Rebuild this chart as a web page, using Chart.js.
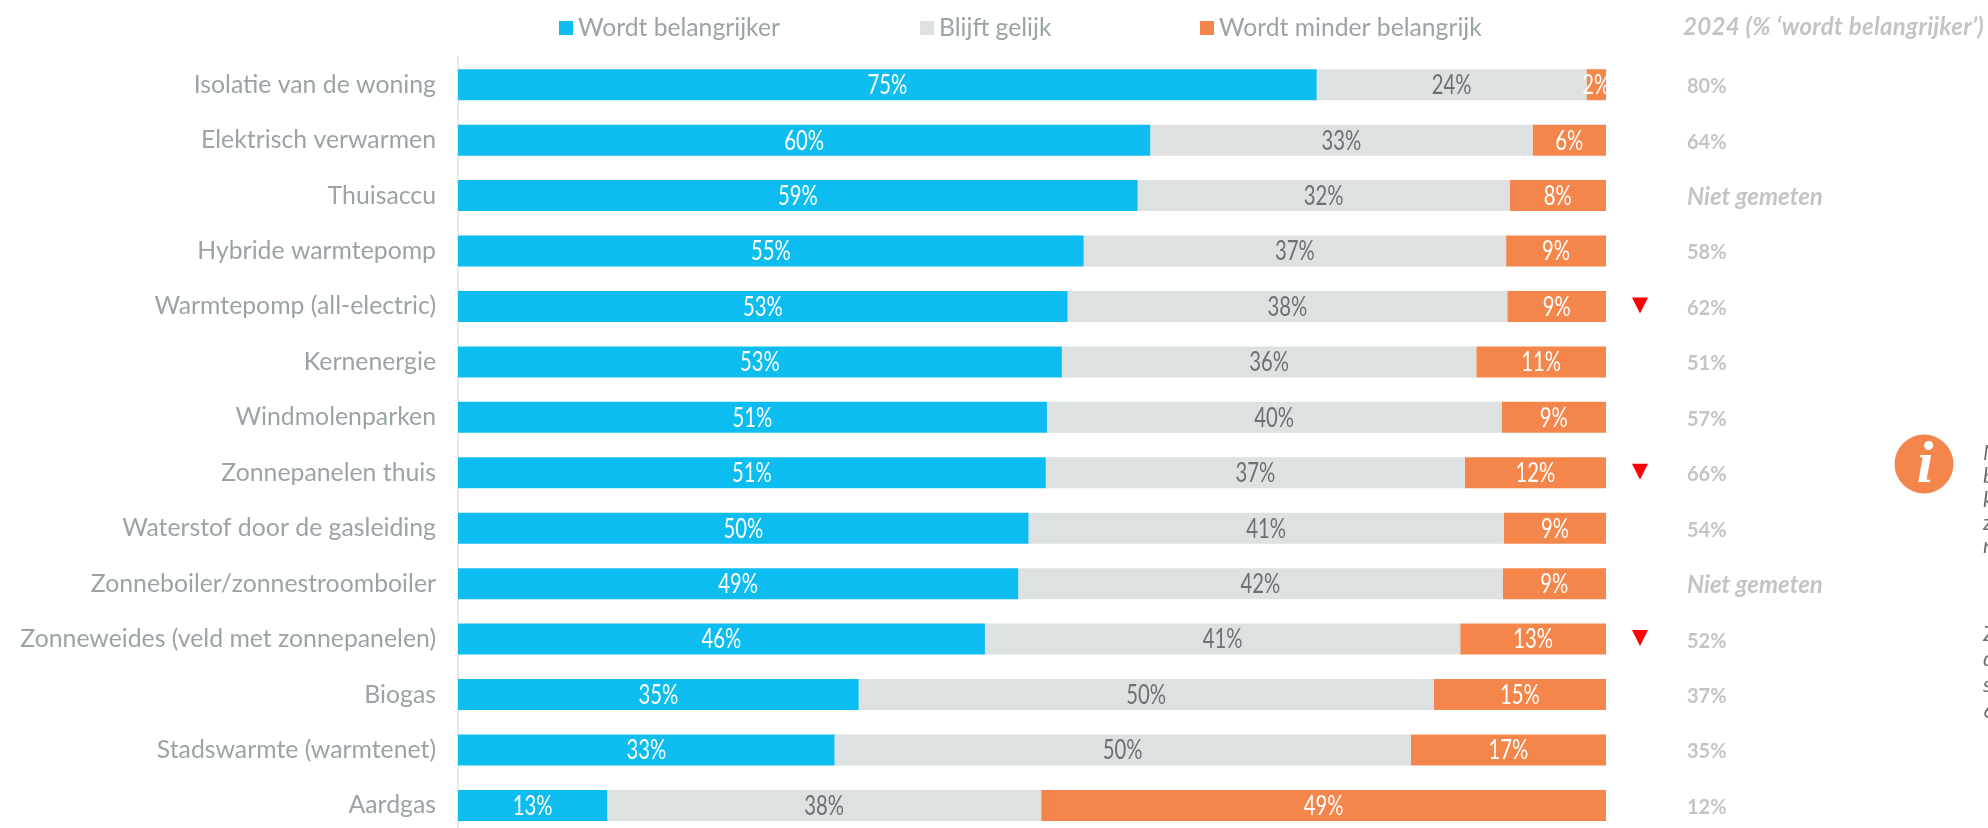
<!DOCTYPE html>
<html>
  <head>
    <title>Chart</title>
    <meta charset="UTF-8" />
    <script src="https://cdn.jsdelivr.net/npm/chart.js@4"></script>
    <style>
      html, body { margin: 0; background: #fff; overflow: hidden; }
      #wrap { position: relative; width: 1988px; height: 828px; overflow: hidden; }
      #wrap canvas { display: block; }
    </style>
  </head>
  <body>
    <div id="wrap"><canvas id="myChart" width="1988" height="870"></canvas></div>
    <script>
      var categories = [
        "Isolatie van de woning", "Elektrisch verwarmen", "Thuisaccu", "Hybride warmtepomp",
        "Warmtepomp (all-electric)", "Kernenergie", "Windmolenparken", "Zonnepanelen thuis",
        "Waterstof door de gasleiding", "Zonneboiler/zonnestroomboiler",
        "Zonneweides (veld met zonnepanelen)", "Biogas", "Stadswarmte (warmtenet)", "Aardgas"
      ];
      var belangrijker = [74.8, 60.3, 59.2, 54.5, 53.1, 52.6, 51.3, 51.2, 49.7, 48.8, 45.9, 34.9, 32.8, 13];
      var gelijk = [23.5, 33.3, 32.4, 36.8, 38.3, 36.1, 39.6, 36.5, 41.4, 42.2, 41.4, 50.1, 50.2, 37.8];
      var minder = [1.7, 6.4, 8.4, 8.7, 8.6, 11.3, 9.1, 12.3, 8.9, 9, 12.7, 15, 17, 49.2];
      var vorigJaar = ["80%", "64%", "Niet gemeten", "58%", "62%", "51%", "57%", "66%", "54%", "Niet gemeten", "52%", "37%", "35%", "12%"];
      var gedaald = [4, 7, 10];
      var seriesNames = ["Wordt belangrijker", "Blijft gelijk", "Wordt minder belangrijk"];
      var seriesColors = ["#0dbdf0", "#dee1e1", "#f4864c"];
      var labelColors = ["#ffffff", "#6b7173", "#ffffff"];
      var headerText = "2024 (% \u2018wordt belangrijker\u2019)";
      var noteLines = ["N", "b", "k", "z", "n", "", "", "Z", "d", "s", "6"];

      var FONT = "Lato";

      // legend, value labels, 2024 column and the info block
      var extras = {
        id: "extras",
        afterDatasetsDraw: function(chart) {
          var ctx = chart.ctx;
          var y = chart.scales.y;
          ctx.save();

          // value labels, squeezed a bit because the original font is narrow
          ctx.font = "26px " + FONT;
          ctx.textAlign = "center";
          ctx.textBaseline = "middle";
          chart.data.datasets.forEach(function(ds, d) {
            ctx.fillStyle = labelColors[d];
            chart.getDatasetMeta(d).data.forEach(function(bar, i) {
              ctx.save();
              ctx.translate((bar.x + bar.base) / 2, bar.y + 1);
              ctx.scale(0.78, 1);
              ctx.fillText(Math.round(ds.data[i]) + "%", 0, 0);
              ctx.restore();
            });
          });

          // legend
          var legendX = [559, 920, 1200];
          ctx.font = "24.7px " + FONT;
          ctx.textAlign = "left";
          seriesNames.forEach(function(name, i) {
            ctx.fillStyle = seriesColors[i];
            ctx.fillRect(legendX[i], 21, 14, 14);
            ctx.fillStyle = "#9aa3a6";
            ctx.fillText(name, legendX[i] + 19, 28);
          });

          // 2024 column
          ctx.fillStyle = "#c4c4c4";
          ctx.font = "italic bold 24px " + FONT;
          ctx.letterSpacing = "0.3px";
          ctx.fillText(headerText, 1683, 27);
          ctx.letterSpacing = "0px";
          vorigJaar.forEach(function(v, i) {
            ctx.font = v.indexOf("%") > 0 ? "bold 20px " + FONT : "italic bold 24px " + FONT;
            ctx.fillText(v, 1687, y.getPixelForValue(i) + 2);
          });

          // red drop markers
          ctx.fillStyle = "#ff0000";
          gedaald.forEach(function(i) {
            var py = y.getPixelForValue(i);
            ctx.beginPath();
            ctx.moveTo(1632, py - 9);
            ctx.lineTo(1648, py - 9);
            ctx.lineTo(1640, py + 7);
            ctx.closePath();
            ctx.fill();
          });

          // info icon
          ctx.fillStyle = "#f4864c";
          ctx.beginPath();
          ctx.arc(1924, 464, 29.5, 0, Math.PI * 2);
          ctx.fill();
          ctx.fillStyle = "#ffffff";
          ctx.font = "italic bold 60px 'Liberation Serif'";
          ctx.textAlign = "center";
          ctx.fillText("i", 1925, 466);

          // note text, cut off by the right edge
          ctx.fillStyle = "#6b7173";
          ctx.font = "italic 22px " + FONT;
          ctx.textAlign = "left";
          noteLines.forEach(function(n, i) {
            ctx.fillText(n, 1983, 453 + i * 25.8 - (i < 5 ? i * 2.5 : 0));
          });

          ctx.restore();
        }
      };

      var ctx = document.getElementById("myChart").getContext("2d");
      var chart = new Chart(ctx, {
        type: "bar",
        data: {
          labels: categories,
          datasets: [
            { label: seriesNames[0], backgroundColor: seriesColors[0], data: belangrijker },
            { label: seriesNames[1], backgroundColor: seriesColors[1], data: gelijk },
            { label: seriesNames[2], backgroundColor: seriesColors[2], data: minder }
          ]
        },
        options: {
          indexAxis: "y",
          responsive: false,
          animation: false,
          layout: { padding: { top: 57, right: 382, bottom: 0, left: 0 } },
          datasets: { bar: { categoryPercentage: 0.56, barPercentage: 1 } },
          scales: {
            x: { stacked: true, min: 0, max: 100, display: false },
            y: {
              stacked: true,
              afterFit: function(scale) { scale.width = 458; },
              grid: { display: false, drawTicks: false },
              border: { display: true, color: "#e8e8e8", width: 2 },
              ticks: { color: "#9aa3a6", padding: 22, font: { family: FONT, size: 24.8 } }
            }
          },
          plugins: { legend: { display: false }, tooltip: { enabled: false } }
        },
        plugins: [extras]
      });
    </script>
  </body>
</html>
